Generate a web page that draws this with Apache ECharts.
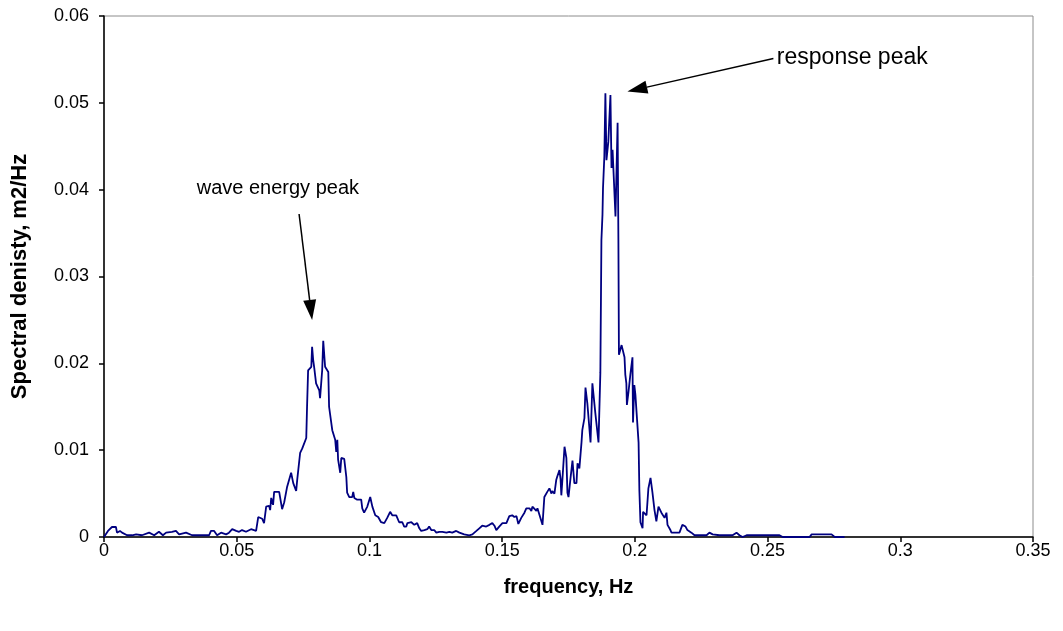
<!DOCTYPE html>
<html>
<head>
<meta charset="utf-8">
<script src="https://cdn.jsdelivr.net/npm/echarts@6/dist/echarts.min.js"></script>
<style>
html,body{margin:0;padding:0;background:#fff;}
#chart{width:1063px;height:631px;}
</style>
</head>
<body>
<div id="chart"></div>
<script>
// frequency (Hz)
const freq = [
0,0.0015,0.0030,0.0045,0.0049,0.0060,0.0068,0.0087,0.0106,0.0121,0.0143,0.0170,0.0189,0.0207,0.0222,0.0234,0.0256,0.0271,0.0283,0.0309,
0.0332,0.0358,0.0396,0.0403,0.0415,0.0426,0.0441,0.0460,0.0471,0.0483,0.0498,0.0509,0.0520,0.0535,0.0554,0.0573,0.0581,0.0596,0.0603,0.0611,
0.0622,0.0626,0.0630,0.0637,0.0641,0.0660,0.0671,0.0679,0.0690,0.0705,0.0713,0.0724,0.0728,0.0739,0.0747,0.0762,0.0765,0.0769,0.0781,0.0784,
0.0788,0.0792,0.0799,0.0811,0.0814,0.0822,0.0826,0.0833,0.0845,0.0848,0.0860,0.0871,0.0875,0.0879,0.0882,0.0890,0.0894,0.0905,0.0913,0.0916,
0.0924,0.0935,0.0939,0.0943,0.0954,0.0969,0.0973,0.0980,0.0992,0.1003,0.1011,0.1022,0.1033,0.1044,0.1056,0.1067,0.1078,0.1086,0.1101,0.1105,
0.1112,0.1124,0.1131,0.1139,0.1143,0.1158,0.1161,0.1169,0.1180,0.1188,0.1195,0.1207,0.1218,0.1225,0.1233,0.1244,0.1252,0.1263,0.1275,0.1290,
0.1301,0.1312,0.1327,0.1339,0.1357,0.1376,0.1388,0.1403,0.1414,0.1425,0.1440,0.1444,0.1452,0.1463,0.1471,0.1478,0.1482,0.1489,0.1501,0.1516,
0.1520,0.1527,0.1538,0.1546,0.1554,0.1561,0.1572,0.1576,0.1584,0.1591,0.1603,0.1610,0.1614,0.1621,0.1629,0.1633,0.1640,0.1652,0.1659,0.1670,
0.1678,0.1686,0.1689,0.1697,0.1704,0.1708,0.1716,0.1720,0.1723,0.1727,0.1735,0.1742,0.1746,0.1750,0.1757,0.1765,0.1772,0.1780,0.1784,0.1791,
0.1799,0.1802,0.1810,0.1814,0.1821,0.1833,0.1840,0.1851,0.1863,0.1870,0.1872,0.1874,0.1878,0.1880,0.1885,0.1889,0.1893,0.1900,0.1908,0.1912,
0.1916,0.1927,0.1935,0.1938,0.1940,0.1950,0.1953,0.1961,0.1964,0.1968,0.1970,0.1976,0.1983,0.1991,0.1993,0.1998,0.2002,0.2014,0.2017,0.2021,
0.2025,0.2029,0.2031,0.2044,0.2051,0.2059,0.2066,0.2074,0.2081,0.2089,0.2100,0.2112,0.2119,0.2123,0.2134,0.2138,0.2168,0.2179,0.2191,0.2198,
0.2213,0.2225,0.2270,0.2281,0.2293,0.2319,0.2368,0.2383,0.2394,0.2406,0.2421,0.2545,0.2557,0.2590,0.2594,0.2598,0.2658,0.2666,0.2741,0.2753,
0.2779,0.2783,0.2790
];
// spectral density (m2/Hz)
const density = [
0,0.0007,0.00115,0.00115,0.0005,0.0007,0.0005,0.0002,0.0002,0.0003,0.0002,0.0005,0.0002,0.0006,0.0002,0.0005,0.0006,0.0007,0.0003,0.0005,
0.0002,0.0002,0.0002,0.0007,0.0007,0.0002,0.0005,0.0003,0.0005,0.0009,0.0007,0.0006,0.0008,0.0006,0.0009,0.0007,0.0023,0.0021,0.0016,0.0035,
0.0036,0.0031,0.0045,0.0037,0.0052,0.0052,0.0032,0.0040,0.0058,0.0074,0.0062,0.0053,0.0066,0.0097,0.0102,0.0114,0.0150,0.0192,0.0196,0.0219,
0.0204,0.0195,0.0177,0.0169,0.0160,0.0192,0.0226,0.0196,0.0190,0.0150,0.0123,0.0112,0.0098,0.0112,0.0089,0.0074,0.0091,0.0090,0.0069,0.0051,
0.0046,0.0046,0.0052,0.0045,0.0043,0.0043,0.0033,0.0028,0.0035,0.0046,0.0035,0.0025,0.0023,0.0017,0.0016,0.0022,0.0029,0.0025,0.0025,0.0023,
0.0017,0.0017,0.0012,0.0012,0.0016,0.0017,0.0016,0.0014,0.0016,0.0010,0.0007,0.0008,0.0009,0.0012,0.0008,0.0008,0.0005,0.0006,0.0006,0.0005,
0.0006,0.0005,0.0007,0.0005,0.0003,0.0002,0.0003,0.0007,0.0010,0.0013,0.0012,0.0010,0.0014,0.0016,0.0013,0.0008,0.0009,0.0012,0.0016,0.0016,
0.0017,0.0024,0.0025,0.0023,0.0024,0.0015,0.0022,0.0023,0.0028,0.0033,0.0033,0.0030,0.0035,0.0033,0.0030,0.0033,0.0031,0.0014,0.0046,0.0052,
0.0056,0.0050,0.0053,0.0050,0.0066,0.0070,0.0077,0.0067,0.0048,0.0066,0.0104,0.0091,0.0051,0.0046,0.0066,0.0088,0.0062,0.0062,0.0085,0.0079,
0.0109,0.0123,0.0137,0.0172,0.0154,0.0109,0.0177,0.0143,0.0109,0.0189,0.0265,0.0342,0.0371,0.0402,0.0438,0.0511,0.0434,0.0455,0.0509,0.0425,
0.0446,0.0369,0.0477,0.0342,0.0210,0.0221,0.0221,0.0207,0.0187,0.0177,0.0152,0.0167,0.0187,0.0207,0.0132,0.0175,0.0164,0.0109,0.0054,0.0017,
0.0016,0.0010,0.0029,0.0025,0.0056,0.0068,0.0052,0.0031,0.0018,0.0035,0.0028,0.0022,0.0028,0.0014,0.0008,0.0005,0.0005,0.0014,0.0012,0.0008,
0.0005,0.0002,0.0002,0.0005,0.0003,0.0002,0.0002,0.0005,0.0002,0,0.0002,0.0002,0,0,0.0002,0,0,0.0003,0.0003,0,
0,0.0002,0
];
const xTicks = [0, 0.05, 0.1, 0.15, 0.2, 0.25, 0.3, 0.35];
const yTicks = [0, 0.01, 0.02, 0.03, 0.04, 0.05, 0.06];
const annotations = [
  { text: 'wave energy peak', size: 20, textAt: [0.0655, 0.0401], align: 'center', from: [0.0735, 0.0372], to: [0.0784, 0.0250] },
  { text: 'response peak', size: 23, textAt: [0.2535, 0.0552], align: 'left', from: [0.2522, 0.0551], to: [0.1972, 0.0513] }
];

const FONT = '"Liberation Sans", Arial, sans-serif';
const chart = echarts.init(document.getElementById('chart'), null, { renderer: 'canvas' });
const fmt = v => String(parseFloat(v.toFixed(3)));

chart.setOption({
  animation: false,
  backgroundColor: '#ffffff',
  grid: { left: 104, right: 30, top: 16, bottom: 94, show: true, borderColor: '#8c8c8c', borderWidth: 1, backgroundColor: 'transparent' },
  xAxis: {
    type: 'value', min: xTicks[0], max: xTicks[xTicks.length - 1], interval: 0.05,
    name: 'frequency, Hz', nameLocation: 'middle', nameGap: 40,
    nameTextStyle: { fontFamily: FONT, fontSize: 20, fontWeight: 'bold', color: '#000' },
    axisLine: { show: true, onZero: false, lineStyle: { color: '#000', width: 1.5 } },
    axisTick: { show: true, inside: false, length: 5, lineStyle: { color: '#000', width: 1.5 } },
    axisLabel: { fontFamily: FONT, fontSize: 18, color: '#000', margin: 5, formatter: fmt },
    splitLine: { show: false }
  },
  yAxis: {
    type: 'value', min: yTicks[0], max: yTicks[yTicks.length - 1], interval: 0.01,
    name: 'Spectral denisty, m2/Hz', nameLocation: 'middle', nameGap: 73,
    nameTextStyle: { fontFamily: FONT, fontSize: 22, fontWeight: 'bold', color: '#000' },
    axisLine: { show: true, onZero: false, lineStyle: { color: '#000', width: 1.5 } },
    axisTick: { show: true, inside: false, length: 5, lineStyle: { color: '#000', width: 1.5 } },
    axisLabel: { fontFamily: FONT, fontSize: 18, color: '#000', margin: 15, formatter: fmt },
    splitLine: { show: false }
  },
  series: [{
    type: 'line',
    data: freq.map((f, i) => [f, density[i]]),
    showSymbol: false,
    symbol: 'none',
    lineStyle: { color: '#000080', width: 1.8 },
    z: 3
  }]
});

function drawAnnotations() {
  const els = [];
  annotations.forEach(a => {
    const p0 = chart.convertToPixel({ gridIndex: 0 }, a.from);
    const p1 = chart.convertToPixel({ gridIndex: 0 }, a.to);
    const pt = chart.convertToPixel({ gridIndex: 0 }, a.textAt);
    const dx = p1[0] - p0[0], dy = p1[1] - p0[1];
    const len = Math.sqrt(dx * dx + dy * dy);
    const ux = dx / len, uy = dy / len;
    const headLen = 20, headW = 6.5;
    const bx = p1[0] - ux * headLen, by = p1[1] - uy * headLen;
    els.push({
      type: 'line', silent: true, z: 10,
      shape: { x1: p0[0], y1: p0[1], x2: bx, y2: by },
      style: { stroke: '#000', lineWidth: 1.5 }
    });
    els.push({
      type: 'polygon', silent: true, z: 10,
      shape: { points: [[p1[0], p1[1]], [bx - uy * headW, by + ux * headW], [bx + uy * headW, by - ux * headW]] },
      style: { fill: '#000' }
    });
    els.push({
      type: 'text', silent: true, z: 10,
      x: pt[0], y: pt[1],
      style: { text: a.text, fontFamily: FONT, fontSize: a.size, fill: '#000', align: a.align, verticalAlign: 'middle' }
    });
  });
  chart.setOption({ graphic: els });
}
drawAnnotations();
</script>
</body>
</html>
